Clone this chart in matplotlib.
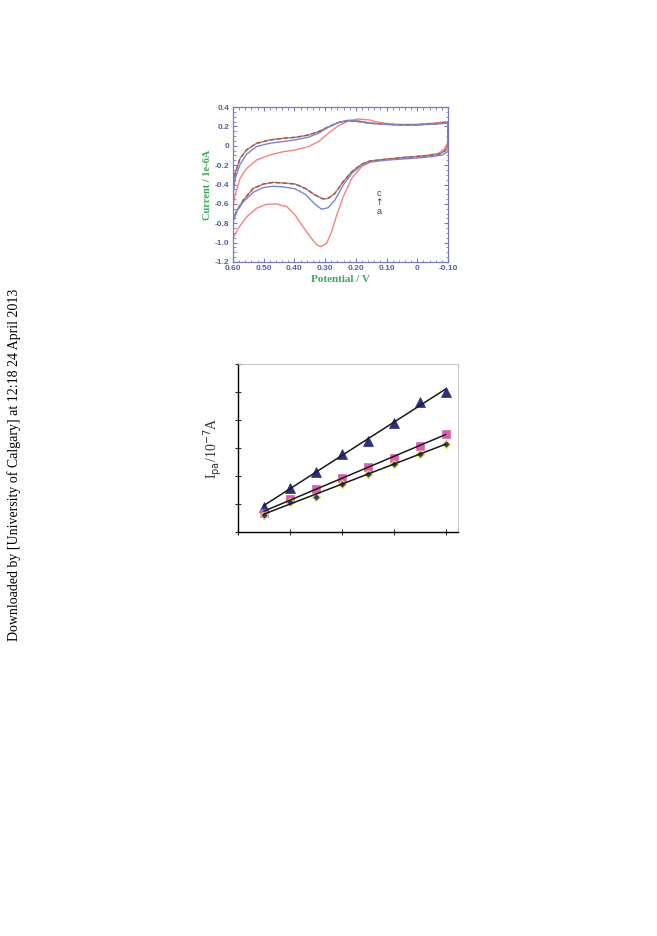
"""Two-panel figure: cyclic voltammograms (top) and Ipa vs scan rate (bottom)."""
import matplotlib
matplotlib.use("Agg")
import matplotlib.pyplot as plt
import numpy as np
from matplotlib.ticker import MultipleLocator

plt.rcParams.update({"font.family": ["Liberation Serif", "DejaVu Serif"]})

# ---- top panel: CV curves, one closed loop each (potential V, current 1e-6 A)
E_A = [0.600, 0.593, 0.577, 0.555, 0.523, 0.480, 0.436, 0.398, 0.355, 0.322,
       0.290, 0.257, 0.224, 0.192, 0.154, 0.137, 0.105, 0.062, 0.007, -0.047,
       -0.096, -0.100,
       -0.100, -0.091, -0.069, -0.025, 0.040, 0.105, 0.137, 0.154, 0.181,
       0.213, 0.241, 0.262, 0.279, 0.295, 0.313, 0.327, 0.349, 0.376, 0.398,
       0.425, 0.458, 0.490, 0.523, 0.555, 0.583, 0.600]
I_A = [-0.62, -0.51, -0.336, -0.233, -0.147, -0.095, -0.061, -0.044, -0.01, 0.042,
       0.128, 0.207, 0.256, 0.276, 0.266, 0.249, 0.232, 0.221, 0.221, 0.232,
       0.249, 0.25,
       0.042, -0.026, -0.078, -0.102, -0.123, -0.14, -0.155, -0.17, -0.215,
       -0.336, -0.525, -0.714, -0.887, -1.006, -1.041, -1.024, -0.938, -0.818, -0.714,
       -0.628, -0.601, -0.604, -0.645, -0.732, -0.852, -0.955]

E_B = [0.600, 0.593, 0.577, 0.555, 0.523, 0.480, 0.436, 0.398, 0.355, 0.322,
       0.290, 0.257, 0.224, 0.192, 0.154, 0.105, 0.062, 0.007, -0.047, -0.100,
       -0.100, -0.080, -0.047, 0.007, 0.062, 0.105, 0.154, 0.181, 0.213,
       0.241, 0.268, 0.290, 0.311, 0.333, 0.365, 0.398, 0.436, 0.469, 0.501,
       0.534, 0.566, 0.588, 0.600]
I_B = [-0.52, -0.34, -0.19, -0.085, -0.008, 0.026, 0.044, 0.061, 0.088, 0.128,
       0.190, 0.240, 0.264, 0.256, 0.235, 0.222, 0.215, 0.215, 0.222, 0.232,
       -0.061, -0.095, -0.113, -0.128, -0.140, -0.150, -0.168, -0.199, -0.284,
       -0.405, -0.56, -0.639, -0.656, -0.604, -0.50, -0.445, -0.425, -0.418, -0.432,
       -0.48, -0.577, -0.68, -0.79]

E_C = [0.600, 0.593, 0.577, 0.555, 0.523, 0.480, 0.436, 0.398, 0.355, 0.322,
       0.290, 0.257, 0.224, 0.192, 0.154, 0.105, 0.062, 0.007, -0.047, -0.100,
       -0.100, -0.091, -0.069, -0.025, 0.040, 0.105, 0.154, 0.181, 0.213,
       0.241, 0.268, 0.290, 0.306, 0.333, 0.365, 0.398, 0.436, 0.469, 0.501,
       0.534, 0.566, 0.588, 0.600]
I_C = [-0.46, -0.285, -0.13, -0.04, 0.025, 0.06, 0.077, 0.087, 0.11, 0.145,
       0.195, 0.240, 0.258, 0.250, 0.232, 0.222, 0.215, 0.215, 0.225, 0.238,
       0.0, -0.05, -0.09, -0.105, -0.12, -0.14, -0.157, -0.19, -0.267,
       -0.37, -0.49, -0.543, -0.55, -0.508, -0.44, -0.395, -0.385, -0.378, -0.395,
       -0.44, -0.56, -0.67, -0.77]

CV_XTICKS = [0.60, 0.50, 0.40, 0.30, 0.20, 0.10, 0.0, -0.10]
CV_XLABELS = ["0.60", "0.50", "0.40", "0.30", "0.20", "0.10", "0", "-0.10"]
CV_YTICKS = [0.4, 0.2, 0.0, -0.2, -0.4, -0.6, -0.8, -1.0, -1.2]
CV_YLABELS = ["0.4", "0.2", "0", "-0.2", "-0.4", "-0.6", "-0.8", "-1.0", "-1.2"]

# ---- bottom panel: peak current vs scan rate (axis units, no tick labels)
RATE = [0.5, 1.0, 1.5, 2.0, 2.5, 3.0, 3.5, 4.0]
IPA_TRI = [0.90, 1.58, 2.13, 2.78, 3.26, 3.91, 4.66, 4.99]
IPA_SQ = [0.69, 1.19, 1.52, 1.94, 2.33, 2.65, 3.08, 3.49]
IPA_DIA = [0.62, 1.08, 1.25, 1.73, 2.08, 2.43, 2.78, 3.13]

CV_AXIS = "#7a7ab8"
CV_TEXT = "#5a62a0"
GREEN = "#3aa85a"
SANS = ["Liberation Sans", "DejaVu Sans"]

fig = plt.figure(figsize=(6.57, 9.36), dpi=100)

# ------------------------------------------------------------------ top
ax1 = fig.add_axes([233 / 657, 1 - 262 / 936, 215 / 657, 155 / 936])
ax1.plot(E_A, I_A, color="#f4847c", lw=1.0)
ax1.plot(E_C, I_C, color="#8a8a90", lw=1.0)
ax1.plot(E_C, I_C, color="#c04838", lw=1.0, ls=(0, (3, 2)))
ax1.plot(E_B, I_B, color="#7a86cc", lw=1.0)
ax1.set_xlim(0.60, -0.10)
ax1.set_ylim(-1.2, 0.4)
ax1.set_xticks(CV_XTICKS)
ax1.set_xticklabels(CV_XLABELS)
ax1.set_yticks(CV_YTICKS)
ax1.set_yticklabels(CV_YLABELS)
ax1.xaxis.set_minor_locator(MultipleLocator(0.02))
ax1.yaxis.set_minor_locator(MultipleLocator(0.05))
for s in ax1.spines.values():
    s.set_color(CV_AXIS)
    s.set_linewidth(0.9)
ax1.tick_params(which="both", direction="in", top=True, right=True,
                color=CV_AXIS, labelcolor=CV_TEXT, labelsize=6, pad=2.5)
ax1.tick_params(which="major", length=3)
ax1.tick_params(which="minor", length=1.8)
for lab in ax1.get_xticklabels() + ax1.get_yticklabels():
    lab.set_fontfamily(SANS)
    lab.set_fontweight("bold")
ax1.set_xlabel("Potential / V", color=GREEN, fontsize=8, fontweight="bold",
               labelpad=2)
ax1.set_ylabel("Current / 1e-6A", color=GREEN, fontsize=7.5, fontweight="bold",
               labelpad=2)
ax1.text(0.125, -0.49, "c", fontsize=6.5, ha="center", va="center",
         color="#404040", family=SANS)
ax1.text(0.125, -0.585, "\u2191", fontsize=6.5, ha="center", va="center",
         color="#404040", family=["DejaVu Sans"])
ax1.text(0.125, -0.68, "a", fontsize=6.5, ha="center", va="center",
         color="#404040", family=SANS)

# ------------------------------------------------------------------ bottom
ax2 = fig.add_axes([238 / 657, 1 - 532 / 936, 220 / 657, 168 / 936])
for yv, mk, fc, ec, ms, mew in [
        (IPA_TRI, "^", "#2e2e7e", "#2e2e7e", 7, 0.5),
        (IPA_SQ, "s", "#d860b0", "#d860b0", 5.5, 0.5),
        (IPA_DIA, "D", "#2a3a8a", "#e8e040", 3.8, 0.9)]:
    k, b = np.polyfit(RATE, yv, 1)
    xr = np.array([RATE[0], RATE[-1]])
    ax2.plot(RATE, yv, ls="none", marker=mk, mfc=fc, mec=ec, ms=ms, mew=mew,
             zorder=2)
    ax2.plot(xr, k * xr + b, color="#1a1a1a", lw=1.1, zorder=3)
ax2.set_xlim(0, 4.24)
ax2.set_ylim(0, 6)
ax2.set_xticks(np.arange(0, 5))
ax2.set_yticks(np.arange(0, 7))
ax2.set_xticklabels([])
ax2.set_yticklabels([])
ax2.tick_params(direction="inout", length=5, width=0.8, color="#333333")
ax2.spines["left"].set_linewidth(1.0)
ax2.spines["bottom"].set_linewidth(1.0)
ax2.spines["top"].set_color("#bbbbbb")
ax2.spines["right"].set_color("#bbbbbb")
ax2.spines["top"].set_linewidth(0.6)
ax2.spines["right"].set_linewidth(0.6)
ax2.set_ylabel(r"I$_{\rm pa}$/10$^{-7}$A", fontsize=10, labelpad=4,
               color="#333333")

fig.text(14 / 657, 1 - 465 / 936,
         "Downloaded by [University of Calgary] at 12:18 24 April 2013",
         rotation=90, ha="center", va="center", fontsize=10)

fig.savefig("out.png", dpi=100)
